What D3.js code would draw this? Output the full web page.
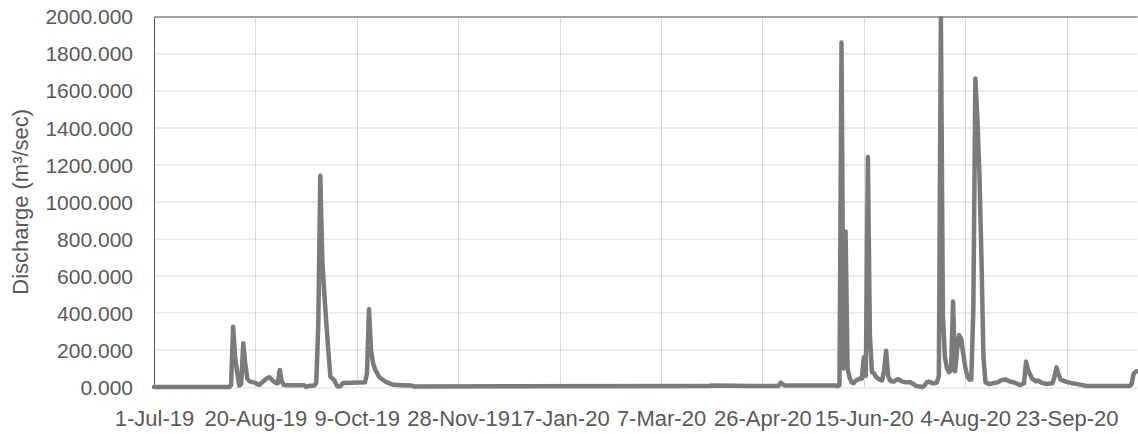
<!DOCTYPE html>
<html>
<head>
<meta charset="UTF-8">
<script src="https://d3js.org/d3.v7.min.js"></script>
<style>
  body { margin: 0; background: #fff; }
  svg { display: block; font-family: "Liberation Sans", Arial, sans-serif; }
  .tick text { fill: #595959; }
  .axis-title { fill: #595959; font-size: 22px; }
</style>
</head>
<body>
<div id="chart"></div>
<script>
// daily discharge readings (only the days where the trace changes)
const dates = [
  "2019-07-01", "2019-08-07", "2019-08-08", "2019-08-09", "2019-08-10", "2019-08-11",
  "2019-08-12", "2019-08-13", "2019-08-14", "2019-08-15", "2019-08-16", "2019-08-17",
  "2019-08-18", "2019-08-19", "2019-08-20", "2019-08-21", "2019-08-22", "2019-08-23",
  "2019-08-24", "2019-08-25", "2019-08-26", "2019-08-27", "2019-08-28", "2019-08-29",
  "2019-08-30", "2019-08-31", "2019-09-01", "2019-09-02", "2019-09-03", "2019-09-04",
  "2019-09-13", "2019-09-14", "2019-09-15", "2019-09-18", "2019-09-19", "2019-09-20",
  "2019-09-21", "2019-09-22", "2019-09-23", "2019-09-24", "2019-09-25", "2019-09-26",
  "2019-09-27", "2019-09-28", "2019-09-29", "2019-09-30", "2019-10-01", "2019-10-02",
  "2019-10-03", "2019-10-13", "2019-10-14", "2019-10-15", "2019-10-16", "2019-10-17",
  "2019-10-18", "2019-10-19", "2019-10-20", "2019-10-21", "2019-10-22", "2019-10-23",
  "2019-10-24", "2019-10-25", "2019-10-26", "2019-10-27", "2019-10-31", "2019-11-05",
  "2019-11-06", "2020-03-31", "2020-04-01", "2020-04-21", "2020-05-04", "2020-05-05",
  "2020-05-06", "2020-05-07", "2020-06-01", "2020-06-02", "2020-06-03", "2020-06-04",
  "2020-06-05", "2020-06-06", "2020-06-07", "2020-06-08", "2020-06-09", "2020-06-10",
  "2020-06-11", "2020-06-12", "2020-06-13", "2020-06-14", "2020-06-15", "2020-06-16",
  "2020-06-17", "2020-06-18", "2020-06-19", "2020-06-20", "2020-06-21", "2020-06-22",
  "2020-06-23", "2020-06-24", "2020-06-25", "2020-06-26", "2020-06-27", "2020-06-28",
  "2020-06-29", "2020-06-30", "2020-07-01", "2020-07-02", "2020-07-03", "2020-07-04",
  "2020-07-06", "2020-07-08", "2020-07-10", "2020-07-11", "2020-07-14", "2020-07-15",
  "2020-07-16", "2020-07-17", "2020-07-19", "2020-07-20", "2020-07-21", "2020-07-22",
  "2020-07-23", "2020-07-24", "2020-07-25", "2020-07-26", "2020-07-27", "2020-07-28",
  "2020-07-29", "2020-07-30", "2020-07-31", "2020-08-01", "2020-08-02", "2020-08-03",
  "2020-08-04", "2020-08-05", "2020-08-06", "2020-08-07", "2020-08-08", "2020-08-09",
  "2020-08-10", "2020-08-11", "2020-08-12", "2020-08-13", "2020-08-14", "2020-08-16",
  "2020-08-18", "2020-08-20", "2020-08-22", "2020-08-24", "2020-08-26", "2020-08-28",
  "2020-08-31", "2020-09-02", "2020-09-03", "2020-09-04", "2020-09-06", "2020-09-08",
  "2020-09-09", "2020-09-11", "2020-09-13", "2020-09-16", "2020-09-17", "2020-09-18",
  "2020-09-19", "2020-09-20", "2020-09-23", "2020-09-25", "2020-09-29", "2020-10-03",
  "2020-10-24", "2020-10-25", "2020-10-26", "2020-10-27", "2020-10-28"
];

const discharge = [
  0, 0, 10, 325, 160, 80,
  8, 15, 236, 130, 45, 32,
  28, 25, 22, 15, 12, 22,
  32, 42, 50, 52, 40, 30,
  22, 20, 92, 30, 12, 10,
  10, 0, 5, 8, 20, 330,
  1140, 680, 500, 340, 190, 55,
  45, 35, 10, 2, 5, 20,
  22, 25, 70, 420, 200, 130,
  95, 75, 55, 45, 38, 30,
  25, 20, 16, 12, 10, 8,
  3, 5, 8, 6, 6, 23,
  15, 8, 8, 5, 10, 1860,
  100, 840, 100, 50, 25, 20,
  35, 40, 45, 45, 160, 60,
  1241, 280, 80, 75, 55, 45,
  40, 35, 90, 196, 60, 35,
  30, 30, 38, 42, 35, 29,
  25, 25, 12, 5, 0, 8,
  25, 29, 20, 20, 25, 60,
  2010, 380, 160, 100, 80, 90,
  461, 85, 200, 280, 260, 180,
  110, 60, 40, 40, 420, 1665,
  1450, 1150, 700, 160, 25, 15,
  22, 25, 38, 40, 30, 25,
  10, 20, 137, 90, 45, 30,
  34, 22, 16, 20, 55, 106,
  70, 40, 28, 22, 14, 5,
  5, 15, 70, 83, 85
];

const tickDates = [
  "2019-07-01", "2019-08-20", "2019-10-09", "2019-11-28", "2020-01-17",
  "2020-03-07", "2020-04-26", "2020-06-15", "2020-08-04", "2020-09-23"
];
const yTicks = [0, 200, 400, 600, 800, 1000, 1200, 1400, 1600, 1800, 2000];
const xStart = "2019-07-01";
const xEnd = "2020-10-28";

const W = 1138, H = 434;
const margin = { top: 16.5, right: 0.4, bottom: 47, left: 154 };
const width = W - margin.left - margin.right;
const height = H - margin.top - margin.bottom;

const parse = d3.utcParse("%Y-%m-%d");
const data = dates.map((d, i) => ({ date: parse(d), value: discharge[i] }));

const svg = d3.select("#chart").append("svg")
  .attr("width", W)
  .attr("height", H);

const g = svg.append("g")
  .attr("transform", `translate(${margin.left},${margin.top})`);

const x = d3.scaleUtc()
  .domain([parse(xStart), parse(xEnd)])
  .range([0, width]);

const y = d3.scaleLinear()
  .domain([0, 2000])
  .range([height, 0]);

// gridlines
g.append("g")
  .selectAll("line")
  .data(yTicks)
  .join("line")
  .attr("x1", 0).attr("x2", width)
  .attr("y1", d => Math.round(y(d)) + 0.5).attr("y2", d => Math.round(y(d)) + 0.5)
  .attr("stroke", "#d9d9d9").attr("stroke-width", 1);

g.append("g")
  .selectAll("line")
  .data(tickDates.map(parse))
  .join("line")
  .attr("x1", d => Math.round(x(d)) + 0.5).attr("x2", d => Math.round(x(d)) + 0.5)
  .attr("y1", 0).attr("y2", height)
  .attr("stroke", "#d9d9d9").attr("stroke-width", 1);

// plot area border (top and left)
g.append("path")
  .attr("d", `M0.5,${height}V0.5H${width}`)
  .attr("fill", "none")
  .attr("stroke", "#595959")
  .attr("stroke-width", 1);

// axes
const xAxis = g.append("g")
  .attr("transform", `translate(0,${height})`)
  .call(d3.axisBottom(x)
    .tickValues(tickDates.map(parse))
    .tickFormat(d3.utcFormat("%-d-%b-%y"))
    .tickSize(0)
    .tickPadding(23));
xAxis.select(".domain").remove();
xAxis.selectAll("text")
  .attr("dy", "0.71em")
  .attr("font-family", "'Liberation Sans', Arial, sans-serif")
  .attr("font-size", 22);

const yAxis = g.append("g")
  .call(d3.axisLeft(y)
    .tickValues(yTicks)
    .tickFormat(d3.format(".3f"))
    .tickSize(0)
    .tickPadding(21));
yAxis.select(".domain").remove();
yAxis.selectAll("text")
  .attr("dy", "0.35em")
  .attr("font-family", "'Liberation Sans', Arial, sans-serif")
  .attr("font-size", 21);

// discharge line
svg.append("defs").append("clipPath")
  .attr("id", "plot-clip")
  .append("rect")
  .attr("x", -5).attr("y", 0)
  .attr("width", width + 10).attr("height", height + 10);

const line = d3.line()
  .x(d => x(d.date))
  .y(d => y(d.value));

g.append("path")
  .datum(data)
  .attr("clip-path", "url(#plot-clip)")
  .attr("fill", "none")
  .attr("stroke", "#7b7b7b")
  .attr("stroke-width", 4.5)
  .attr("stroke-linejoin", "round")
  .attr("stroke-linecap", "round")
  .attr("d", line);

// y axis title
svg.append("text")
  .attr("class", "axis-title")
  .attr("transform", `translate(28,${margin.top + height / 2}) rotate(-90)`)
  .attr("text-anchor", "middle")
  .text("Discharge (m³/sec)");
</script>
</body>
</html>
